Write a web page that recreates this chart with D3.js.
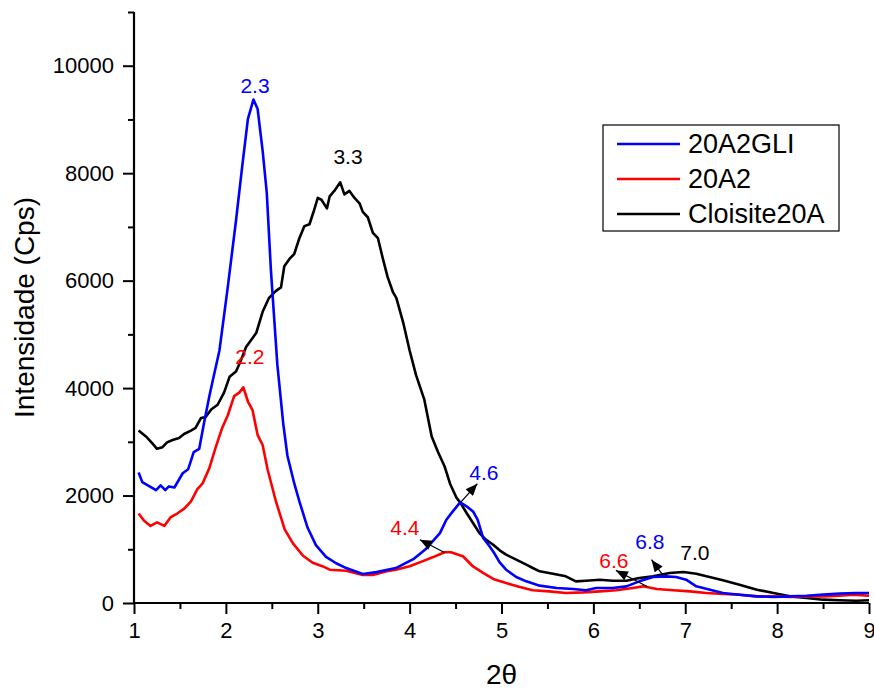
<!DOCTYPE html>
<html>
<head>
<meta charset="utf-8">
<script src="https://cdn.jsdelivr.net/npm/d3@7"></script>
<style>
  body { margin: 0; background: #fff; }
  svg { display: block; font-family: "Liberation Sans", Arial, sans-serif; }
</style>
</head>
<body>
<div class="container"></div>
<script>
// 20A2GLI (blue)
const blueX = [1.05,1.09,1.16,1.24,1.29,1.34,1.38,1.44,1.53,1.59,1.65,1.71,1.76,1.82,1.87,1.93,2.02,2.11,2.18,2.24,2.30,2.345,2.40,2.445,2.49,2.56,2.625,2.67,2.745,2.80,2.89,2.98,3.09,3.20,3.31,3.49,3.64,3.85,4.04,4.18,4.33,4.40,4.47,4.55,4.62,4.69,4.74,4.80,4.87,4.92,4.98,5.05,5.16,5.27,5.415,5.6,5.78,5.92,6.03,6.21,6.36,6.5,6.65,6.79,6.9,7.01,7.12,7.27,7.41,7.59,7.78,7.96,8.14,8.32,8.5,8.68,8.86,9.0];
const blueY = [2430,2250,2180,2100,2190,2100,2170,2150,2415,2490,2810,2870,3330,3850,4240,4700,5870,7115,8160,9010,9370,9200,8420,7640,6200,4440,3330,2740,2220,1890,1400,1077,860,740,650,540,575,650,815,1010,1300,1550,1705,1873,1800,1705,1550,1210,1055,930,757,620,484,403,323,280,260,236,280,280,310,403,484,496,484,434,310,248,186,155,124,112,124,136,155,174,186,186];

// 20A2 (red)
const redX = [1.05,1.11,1.18,1.25,1.33,1.40,1.47,1.55,1.62,1.69,1.745,1.82,1.89,1.96,2.02,2.09,2.145,2.19,2.24,2.29,2.345,2.40,2.455,2.545,2.64,2.73,2.84,2.945,3.05,3.13,3.31,3.49,3.60,3.75,3.85,4.0,4.145,4.25,4.38,4.45,4.53,4.58,4.69,4.80,4.91,5.05,5.2,5.34,5.52,5.7,5.89,6.07,6.25,6.43,6.54,6.69,6.87,7.05,7.23,7.41,7.59,7.78,7.96,8.14,8.32,8.5,8.68,8.83,9.0];
const redY = [1665,1530,1435,1500,1435,1600,1665,1760,1890,2120,2220,2510,2900,3260,3490,3850,3915,4015,3750,3590,3130,2940,2480,1890,1370,1110,880,750,685,620,600,520,520,590,620,685,780,850,945,945,900,870,680,560,447,372,298,236,217,186,198,217,236,280,310,260,236,217,186,167,155,124,124,112,124,124,136,155,136];

// Cloisite20A (black)
const blackX = [1.05,1.13,1.20,1.25,1.31,1.36,1.42,1.49,1.545,1.62,1.67,1.73,1.78,1.84,1.91,1.98,2.04,2.11,2.16,2.22,2.33,2.40,2.47,2.545,2.60,2.636,2.69,2.745,2.80,2.855,2.91,2.96,3.0,3.04,3.10,3.13,3.18,3.245,3.29,3.345,3.40,3.455,3.49,3.545,3.60,3.655,3.71,3.76,3.82,3.855,3.93,4.0,4.07,4.16,4.24,4.31,4.38,4.44,4.51,4.55,4.62,4.69,4.76,4.83,4.91,4.98,5.05,5.16,5.27,5.34,5.415,5.56,5.7,5.81,5.92,6.07,6.21,6.36,6.5,6.65,6.83,6.98,7.12,7.23,7.41,7.59,7.78,7.96,8.14,8.32,8.5,8.68,8.86,9.0];
const blackY = [3210,3100,2970,2870,2900,2990,3035,3070,3145,3210,3260,3445,3460,3600,3690,3915,4210,4310,4500,4765,5025,5420,5680,5810,5875,6270,6400,6500,6790,7015,7050,7310,7540,7505,7345,7570,7670,7830,7605,7670,7540,7440,7280,7180,6890,6790,6400,6070,5780,5680,5220,4700,4240,3785,3100,2805,2545,2220,1960,1873,1675,1490,1300,1180,1085,980,900,806,713,651,590,546,496,403,415,434,415,415,465,496,558,577,546,496,422,341,248,186,124,93,62,50,43,50];

const seriesNames = ["20A2GLI", "20A2", "Cloisite20A"];
const seriesColors = ["#0000ff", "#ff0000", "#000000"];

const xTicks = [1, 2, 3, 4, 5, 6, 7, 8, 9];
const xMinor = [1.5, 2.5, 3.5, 4.5, 5.5, 6.5, 7.5, 8.5];
const yTicks = [0, 2000, 4000, 6000, 8000, 10000];
const yMinor = [1000, 3000, 5000, 7000, 9000, 11000];

// peak labels: text, x, y (data units), colour index
const peakText = ["2.3", "3.3", "2.2", "4.4", "4.6", "6.6", "6.8", "7.0"];
const peakX = [2.317, 3.329, 2.262, 3.949, 4.808, 6.223, 6.615, 7.104];
const peakY = [9500, 8173, 4454, 1271, 2295, 657, 1011, 806];
const peakColor = [0, 2, 1, 1, 0, 1, 0, 2];

// arrows: from (x0,y0) to tip (x1,y1)
const arrowX0 = [4.555, 4.384, 6.596, 6.753];
const arrowY0 = [1872, 935, 298, 527];
const arrowX1 = [4.737, 4.112, 6.245, 6.633];
const arrowY1 = [2220, 1178, 607, 806];

const width = 874, height = 689;
const margin = { top: 12, right: 5, bottom: 86, left: 134 };

const x = d3.scaleLinear().domain([1, 9]).range([margin.left, width - margin.right]);
const y = d3.scaleLinear().domain([0, 11000]).range([height - margin.bottom, margin.top]);

const svg = d3.select(".container").append("svg")
  .attr("width", width)
  .attr("height", height);

const series = [
  blueX.map((d, i) => [d, blueY[i]]),
  redX.map((d, i) => [d, redY[i]]),
  blackX.map((d, i) => [d, blackY[i]])
];

const line = d3.line().x(d => x(d[0])).y(d => y(d[1]));

// draw black first, then red, blue on top (as in the original)
[2, 1, 0].forEach(k => {
  svg.append("path")
    .datum(series[k])
    .attr("fill", "none")
    .attr("stroke", seriesColors[k])
    .attr("stroke-width", 2.6)
    .attr("stroke-linejoin", "round")
    .attr("d", line);
});

// axes
const xAxis = svg.append("g")
  .attr("transform", `translate(0,${y(0)})`)
  .call(d3.axisBottom(x).tickValues(xTicks).tickSize(11).tickPadding(8).tickFormat(d3.format("d")));
svg.append("g")
  .attr("transform", `translate(0,${y(0)})`)
  .call(d3.axisBottom(x).tickValues(xMinor).tickSize(6).tickFormat(""))
  .call(g => g.select(".domain").remove());

const yAxis = svg.append("g")
  .attr("transform", `translate(${x(1)},0)`)
  .call(d3.axisLeft(y).tickValues(yTicks).tickSize(11).tickPadding(9).tickFormat(d3.format("d")));
svg.append("g")
  .attr("transform", `translate(${x(1)},0)`)
  .call(d3.axisLeft(y).tickValues(yMinor).tickSize(6).tickFormat(""))
  .call(g => g.select(".domain").remove());

svg.selectAll(".domain").attr("stroke-width", 2.2).attr("d", function () {
  return d3.select(this).attr("d").replace(/V6|H6/g, "");
});
svg.selectAll(".tick line").attr("stroke-width", 2);
svg.selectAll(".tick text").attr("font-size", 22).attr("fill", "#000")
  .attr("font-family", "'Liberation Sans', Arial, sans-serif");

// plain axis lines without end ticks
xAxis.select(".domain").attr("d", `M${x(1)},0H${x(9)}`);
yAxis.select(".domain").attr("d", `M0,${y(0)}V${y(11000)}`);

// axis titles
svg.append("text")
  .attr("transform", `translate(34,${(y(0) + y(11000)) / 2}) rotate(-90)`)
  .attr("text-anchor", "middle")
  .attr("font-size", 28)
  .text("Intensidade (Cps)");

svg.append("text")
  .attr("x", (x(1) + x(9)) / 2)
  .attr("y", 684)
  .attr("text-anchor", "middle")
  .attr("font-size", 28)
  .text("2θ");

// arrows
svg.append("defs").append("marker")
  .attr("id", "head")
  .attr("viewBox", "0 0 12 10")
  .attr("refX", 12).attr("refY", 5)
  .attr("markerWidth", 13).attr("markerHeight", 10)
  .attr("markerUnits", "userSpaceOnUse")
  .attr("orient", "auto")
  .append("path").attr("d", "M0,0L12,5L0,10Z").attr("fill", "#000");

svg.append("g").selectAll("line")
  .data(arrowX0)
  .join("line")
  .attr("x1", (d, i) => x(d))
  .attr("y1", (d, i) => y(arrowY0[i]))
  .attr("x2", (d, i) => x(arrowX1[i]))
  .attr("y2", (d, i) => y(arrowY1[i]))
  .attr("stroke", "#000")
  .attr("stroke-width", 1.2)
  .attr("marker-end", "url(#head)");

// peak labels
svg.append("g").selectAll("text")
  .data(peakText)
  .join("text")
  .attr("x", (d, i) => x(peakX[i]))
  .attr("y", (d, i) => y(peakY[i]))
  .attr("text-anchor", "middle")
  .attr("font-size", 21)
  .attr("fill", (d, i) => seriesColors[peakColor[i]])
  .text(d => d);

// legend
const legend = svg.append("g").attr("transform", "translate(603,125)");
legend.append("rect")
  .attr("width", 236).attr("height", 106)
  .attr("fill", "#fff").attr("stroke", "#000").attr("stroke-width", 1.2);
seriesNames.forEach((name, i) => {
  const cy = 19 + i * 35;
  legend.append("line")
    .attr("x1", 14).attr("x2", 77).attr("y1", cy).attr("y2", cy)
    .attr("stroke", seriesColors[i]).attr("stroke-width", 2.6);
  legend.append("text")
    .attr("x", 85).attr("y", cy).attr("dy", "0.35em")
    .attr("font-size", 27)
    .text(name);
});
</script>
</body>
</html>
